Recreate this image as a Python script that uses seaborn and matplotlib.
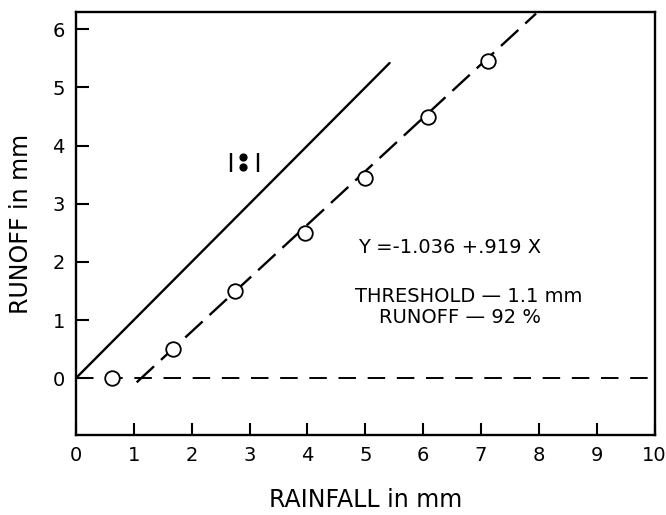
import pandas as pd
import matplotlib.pyplot as plt
import seaborn as sns

# observed storms (rainfall vs runoff, mm)
rain = [0.62, 1.68, 2.75, 3.95, 5.0, 6.08, 7.12]
runoff = [0.0, 0.5, 1.5, 2.5, 3.45, 4.5, 5.45]

# fitted line Y = a + bX
intercept = -1.036
slope = 0.919
fit_x = [1.05, 7.95]

# 1:1 line (all rain runs off)
one_x = [0.0, 5.42]
one_y = [0.0, 5.42]

# the small |:| symbol
sym_dot_x = [2.88, 2.88]
sym_dot_y = [3.8, 3.64]
sym_bar_x = [2.68, 3.15]
sym_bar_lo = 3.55
sym_bar_hi = 3.88

x_ticks = list(range(0, 11))
y_ticks = list(range(0, 7))

sns.set_style('ticks')
plt.rcParams['font.family'] = ['DejaVu Sans']
plt.rcParams['text.color'] = 'black'
plt.rcParams['axes.labelcolor'] = 'black'

fig = plt.figure(figsize=(6.66, 5.15), dpi=100)
ax = fig.add_axes([0.114, 0.155, 0.869, 0.822])

fit_df = pd.DataFrame({'x': fit_x, 'y': [intercept + slope * v for v in fit_x]})
one_df = pd.DataFrame({'x': one_x, 'y': one_y})
pts = pd.DataFrame({'rain': rain, 'runoff': runoff})

ax.axhline(0, color='black', lw=1.4, dashes=(9, 6), zorder=1)
sns.lineplot(data=one_df, x='x', y='y', ax=ax, color='black', lw=1.7, zorder=2)
sns.lineplot(data=fit_df, x='x', y='y', ax=ax, color='black', lw=1.7, zorder=2)
ax.lines[-1].set_dashes((10, 4))
sns.scatterplot(data=pts, x='rain', y='runoff', ax=ax, s=110, marker='o',
                facecolor='white', edgecolor='black', linewidth=1.3, zorder=3)

ax.scatter(sym_dot_x, sym_dot_y, s=24, color='black', zorder=3)
ax.vlines(sym_bar_x, sym_bar_lo, sym_bar_hi, color='black', lw=1.7)

txt = dict(fontsize=14, va='center', color='black')
ax.text(4.87, 2.24, 'Y =-1.036 +.919 X', **txt)
ax.text(4.82, 1.41, 'THRESHOLD \u2014 1.1 mm', **txt)
ax.text(5.23, 1.05, 'RUNOFF \u2014 92 %', **txt)

ax.set_xlim(0, 10)
ax.set_ylim(-0.98, 6.3)
ax.set_xticks(x_ticks)
ax.set_yticks(y_ticks)
ax.tick_params(direction='in', length=9, width=1.5, labelsize=14, pad=8, colors='black')
for s in ax.spines.values():
    s.set_linewidth(1.7)
    s.set_color('black')

ax.set_xlabel('RAINFALL in mm', fontsize=17, labelpad=16)
ax.set_ylabel('RUNOFF in mm', fontsize=17, labelpad=14)

plt.savefig('out.png', dpi=100)
plt.close()
